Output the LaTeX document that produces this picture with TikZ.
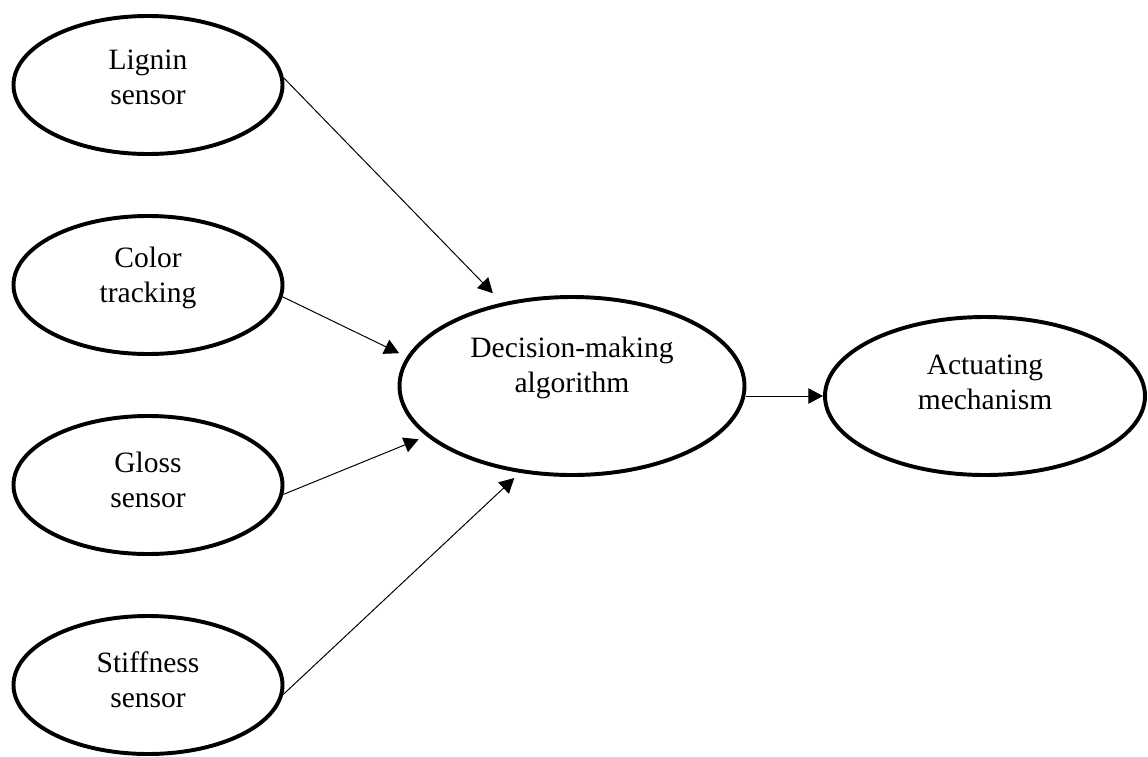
\documentclass[tikz,border=0pt]{standalone}
\usepackage{fontspec}
\setmainfont{Liberation Serif}
\usepackage{tikz}
\usetikzlibrary{arrows.meta,calc,positioning,shapes.geometric}

\begin{document}
\begin{tikzpicture}[
  oval/.style={draw, ellipse, line width=2.8pt, inner sep=0pt},
  sensor/.style={oval, minimum width=6.725cm, minimum height=3.45cm},
  lbl/.style={align=center, font=\fontsize{21}{24.9}\selectfont, inner sep=0pt},
  arr/.style={-{Triangle[length=10.5pt,width=11pt]}, line width=0.7pt}]
\useasboundingbox (0,0) rectangle (28.7,-18.9);
% sensors on the left
\node[sensor] (lig) at (3.7,-2.125) {};
\node[sensor] (col) at (3.7,-7.125) {};
\node[sensor] (glo) at (3.7,-12.125) {};
\node[sensor] (sti) at (3.7,-17.125) {};
\node[lbl] (lig-t) at ([yshift=0.2cm]lig.center) {Lignin\\sensor};
\node[lbl] (col-t) at ([yshift=0.18cm]col.center) {Color\\tracking};
\node[lbl] (glo-t) at ([yshift=0.13cm]glo.center) {Gloss\\sensor};
\node[lbl] (sti-t) at ([yshift=0.13cm]sti.center) {Stiffness\\sensor};
% decision and actuator
\node[oval, minimum width=8.625cm, minimum height=4.45cm] (dec) at (14.3,-9.65) {};
\node[lbl] (dec-t) at ([yshift=0.45cm]dec.center) {Decision-making\\algorithm};
\node[oval, minimum width=8.0cm, minimum height=3.95cm] (act) at (24.625,-9.9) {};
\node[lbl] (act-t) at ([yshift=0.35cm]act.center) {Actuating\\mechanism};
% connectors
\draw[arr, shorten >=0.33cm] (lig.3) -- (dec.130);
\draw[arr, shorten >=0.21cm] (col.-5) -- (dec.170.7);
\draw[arr, shorten >=0.21cm] (glo.-4) -- (dec.-161.7);
\draw[arr, shorten >=0.19cm] (sti.-4) -- (dec.-121.6);
\draw[arr] (dec.east |- act.west) -- (act.west);
\end{tikzpicture}
\end{document}
